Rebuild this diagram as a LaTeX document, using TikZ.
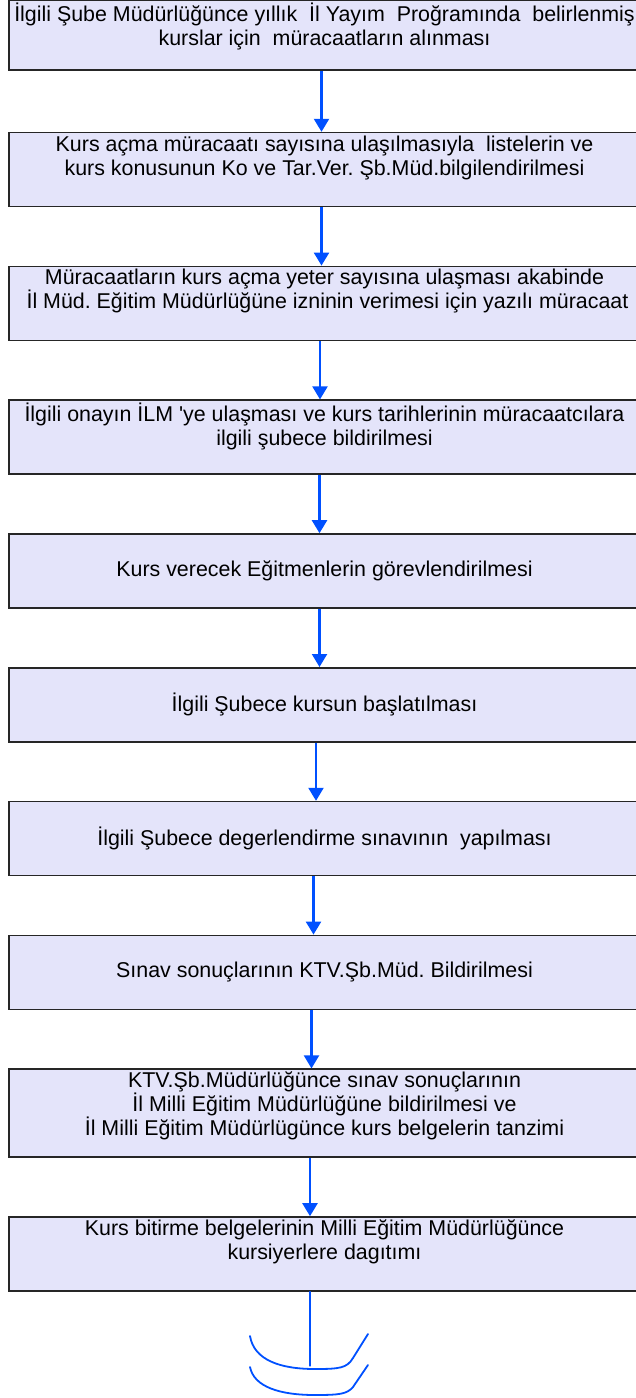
\documentclass[tikz,border=0pt]{standalone}
\usepackage{fontspec}
\setmainfont{Liberation Sans}
\frenchspacing
\usetikzlibrary{positioning, arrows.meta}
\definecolor{boxfill}{RGB}{228,228,250}
\definecolor{flowblue}{RGB}{0,80,255}
\tikzset{%
	stepbox/.style={draw=black!85, line width=1.6pt, fill=boxfill, rectangle,%
		minimum width=631pt, minimum height=74pt, inner sep=0pt,%
		font=\fontsize{21.4pt}{24pt}\selectfont},
	steptext/.style={align=center, inner sep=0pt, anchor=north,%
		font=\fontsize{21.4pt}{24pt}\selectfont,%
		execute at begin node={\rule{0pt}{20pt}}},
	flow/.style={-{Triangle[width=15pt, length=13pt]}, line width=2.2pt, flowblue},
	bowl/.style={line width=1.8pt, flowblue, line cap=round}
}

\begin{document}
\begin{tikzpicture}[node distance=58.2pt]
	\useasboundingbox (0,0) rectangle (636pt,-1398pt);

	%boxes
	\node[stepbox, minimum height=70pt] (apply) at (324.5pt,-35pt) {};
	\node[stepbox, below=61pt of apply] (notify) {};
	\node[stepbox, below=of notify] (permit) {};
	\node[stepbox, below=of permit] (dates) {};
	\node[stepbox, below=of dates] (trainers) {Kurs verecek Eğitmenlerin görevlendirilmesi};
	\node[stepbox, below=of trainers] (start) {İlgili Şubece kursun başlatılması};
	\node[stepbox, below=of start] (exam) {İlgili Şubece degerlendirme sınavının \ yapılması};
	\node[stepbox, below=of exam] (report) {Sınav sonuçlarının KTV.Şb.Müd. Bildirilmesi};
	\node[stepbox, minimum height=88pt, below=of report] (certify) {};
	\node[stepbox, below=of certify] (handout) {};

	%texts with more lines
	\node[steptext] (apply-text) at ([yshift=-3.5pt]apply.north)
		{İlgili Şube Müdürlüğünce yıllık \ İl Yayım \ Proğramında \ belirlenmiş\\kurslar için \ müracaatların alınması};
	\node[steptext] (notify-text) at ([yshift=-3.5pt]notify.north)
		{Kurs açma müracaatı sayısına ulaşılmasıyla \ listelerin ve\\kurs konusunun Ko ve Tar.Ver. Şb.Müd.bilgilendirilmesi};
	\node[steptext] (permit-text) at ([yshift=-3.5pt]permit.north)
		{Müracaatların kurs açma yeter sayısına ulaşması akabinde\\\ İl Müd. Eğitim Müdürlüğüne izninin verimesi için yazılı müracaat};
	\node[steptext] (dates-text) at ([yshift=-3.5pt]dates.north)
		{İlgili onayın İLM \textquotesingle ye ulaşması ve kurs tarihlerinin müracaatcılara\\ilgili şubece bildirilmesi};
	\node[steptext] (certify-text) at ([yshift=-3.5pt]certify.north)
		{KTV.Şb.Müdürlüğünce sınav sonuçlarının\\İl Milli Eğitim Müdürlüğüne bildirilmesi ve\\İl Milli Eğitim Müdürlügünce kurs belgelerin tanzimi};
	\node[steptext] (handout-text) at ([yshift=-3.5pt]handout.north)
		{Kurs bitirme belgelerinin Milli Eğitim Müdürlüğünce\\kursiyerlere dagıtımı};

	%arrows
	\draw[flow] ([xshift=-3pt]apply.south) to ([xshift=-3pt]notify.north);
	\draw[flow] ([xshift=-3pt]notify.south) to ([xshift=-3pt]permit.north);
	\draw[flow] ([xshift=-4.5pt]permit.south) to ([xshift=-4.5pt]dates.north);
	\draw[flow] ([xshift=-5pt]dates.south) to ([xshift=-5pt]trainers.north);
	\draw[flow] ([xshift=-5pt]trainers.south) to ([xshift=-5pt]start.north);
	\draw[flow] ([xshift=-8.5pt]start.south) to ([xshift=-8.5pt]exam.north);
	\draw[flow] ([xshift=-11pt]exam.south) to ([xshift=-11pt]report.north);
	\draw[flow] ([xshift=-13pt]report.south) to ([xshift=-13pt]certify.north);
	\draw[flow] ([xshift=-14.5pt]certify.south) to ([xshift=-14.5pt]handout.north);

	%end of the chart
	\coordinate (stop) at ([xshift=-14.5pt, yshift=-74pt]handout.south);
	\draw[bowl] ([xshift=-14.5pt]handout.south) to (stop);
	\draw[bowl] (250pt,-1336pt) .. controls (254pt,-1360pt) and (280pt,-1369pt) .. (315pt,-1369pt)
		.. controls (340pt,-1369pt) and (347pt,-1368pt) .. (353pt,-1358pt) -- (368pt,-1334pt);
	\draw[bowl] (250pt,-1367pt) .. controls (254pt,-1387pt) and (280pt,-1395pt) .. (315pt,-1395pt)
		.. controls (340pt,-1395pt) and (347pt,-1394pt) .. (353pt,-1387pt) -- (368pt,-1365pt);

\end{tikzpicture}
\end{document}
